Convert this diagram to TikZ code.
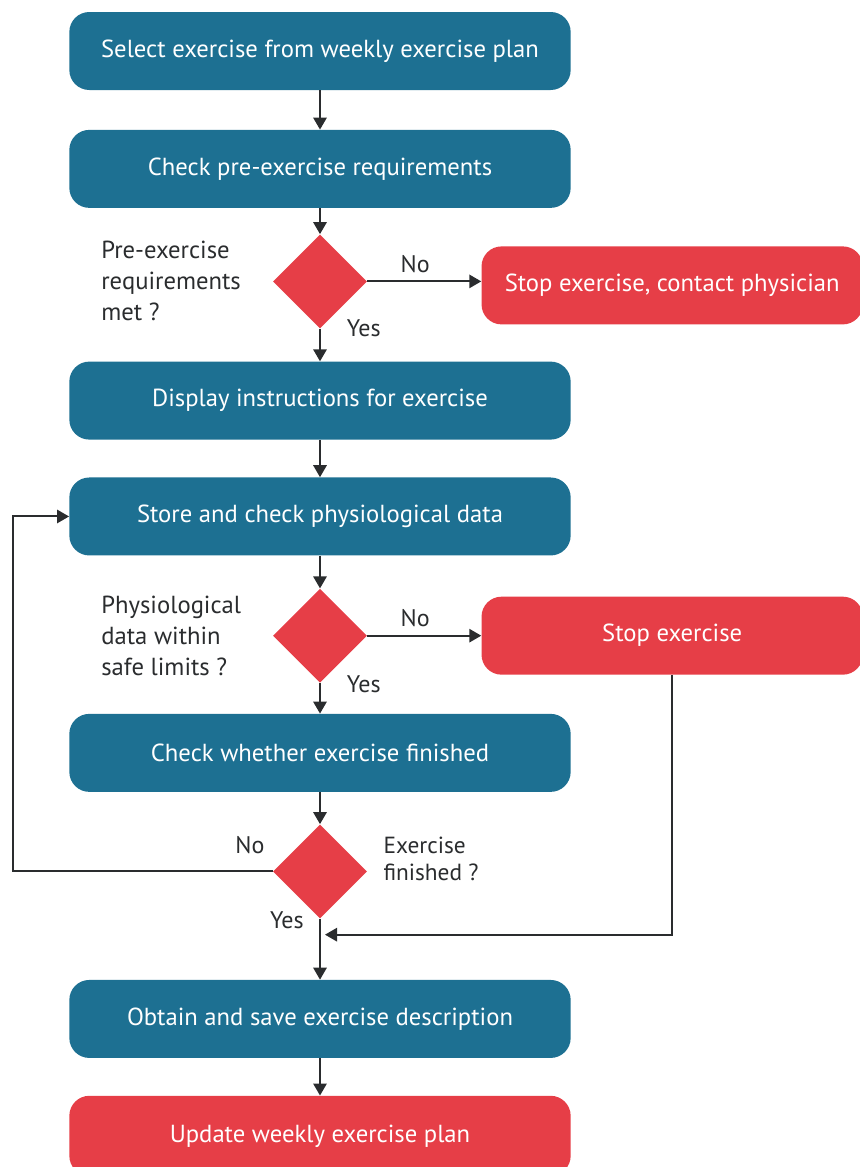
\documentclass[tikz,border=0pt]{standalone}
\usepackage{fontspec}
\setmainfont{PT Sans}
\usepackage{tikz}
\usetikzlibrary{positioning,shapes.geometric,arrows.meta}
\definecolor{stepcolor}{HTML}{1D7092}
\definecolor{stopcolor}{HTML}{E63E47}
\definecolor{linecolor}{HTML}{2A2C2E}

\begin{document}
\begin{tikzpicture}[
			x=0.75pt, y=-0.75pt,
			>={Triangle[length=9pt,width=10pt]},
			stepbox/.style={rectangle, rounded corners=15pt, fill=stepcolor, text=white, minimum width=376pt, minimum height=58.5pt, font=\fontsize{18.5}{22}\selectfont},
			stopbox/.style={stepbox, fill=stopcolor, minimum width=286pt},
			test/.style={diamond, fill=stopcolor, minimum size=70.5pt, inner sep=0pt},
			question/.style={align=left, anchor=west, text=linecolor, inner sep=0pt, font=\fontsize{18.5}{23.25}\selectfont},
			answer/.style={text=linecolor, inner sep=0pt, font=\fontsize{18}{20}\selectfont},
			flow/.style={draw=linecolor, line width=1.5pt},
		]
		\useasboundingbox (0,0) rectangle (860,1167);

		\node[stepbox] (select)	 at (320,51)	  {Select exercise from weekly exercise plan};
		\node[stepbox] (check)   [below=29.5pt of select]   {Check pre-exercise requirements};
		\node[test]    (pre)     [below=19.5pt of check]    {};
		\node[stepbox] (display) [below=24.5pt of pre]   {Display instructions for exercise};
		\node[stepbox] (store)   [below=28pt of display] {Store and check physiological data};
		\node[test]    (physio)  [below=24.5pt of store] {};
		\node[stepbox] (finish)  [below=23pt of physio] {Check whether exercise finished};
		\node[test]    (done)    [below=24pt of finish] {};
		\node[stepbox] (obtain)  [below=45.75pt of done]   {Obtain and save exercise description};
		\node[stopbox, minimum width=376pt, minimum height=60pt] (update) [below=28pt of obtain] {Update weekly exercise plan};

		\node[stopbox] (stopall) [right=85.5pt of pre, yshift=-3pt]    {Stop exercise, contact physician};
		\node[stopbox] (stopex)  [right=85.5pt of physio] {Stop exercise};

		\node[question] (prequestion) at ([xshift=24pt]check.west |- pre) {Pre-exercise\\requirements\\met ?};
		\node[question] (physioquestion) at ([xshift=24pt]check.west |- physio) {Physiological\\data within\\safe limits ?};
		\node[question, font=\fontsize{17.5}{20.25}\selectfont] (donequestion) at ([xshift=12pt,yshift=9.75pt]done.east) {Exercise\\finished ?};

		\node[answer, anchor=west] (preyes) at ([xshift=20pt]pre.south) {Yes};
		\node[answer, anchor=west] (physioyes) at ([xshift=20pt,yshift=-1pt]physio.south) {Yes};
		\node[answer, anchor=east] (doneyes) at ([xshift=-12pt,yshift=-1.5pt]done.south) {Yes};
		\node[answer, anchor=east] (doneno) at ([xshift=-6pt,yshift=20pt]done.west) {No};

		\coordinate (loopx) at (13,0);
		\coordinate (merge) at ([xshift=3.75pt,yshift=-12pt]done.south);

		\draw[flow, ->] (select) -- (check);
		\draw[flow, ->] (check) -- (pre);
		\draw[flow, ->] (pre) -- (display);
		\draw[flow, ->] (pre) -- node[answer, above=6pt, pos=0.42] (preno) {No} (pre -| stopall.west);
		\draw[flow, ->] (display) -- (store);
		\draw[flow, ->] (store) -- (physio);
		\draw[flow, ->] (physio) -- node[answer, above=6pt, pos=0.42] (physiono) {No} (stopex);
		\draw[flow, ->] (physio) -- (finish);
		\draw[flow, ->] (finish) -- (done);
		\draw[flow, ->] (done) -- (obtain);
		\draw[flow, ->] (done.west) -- (done.west -| loopx) |- (store.west);
		\draw[flow, ->] (stopex.south) |- (merge);
		\draw[flow, ->] (obtain) -- (update);

		\end{tikzpicture}
\end{document}
